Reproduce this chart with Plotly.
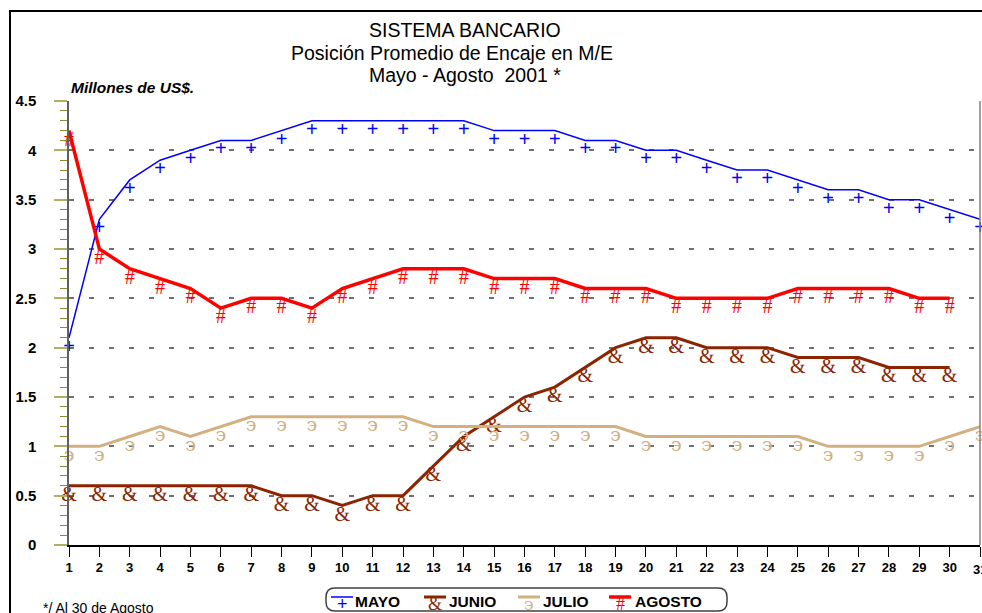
import plotly.graph_objects as go

# ---------------- data ----------------
dias = list(range(1, 32))
dia_labels = [str(d) for d in dias]
mayo = [2.1, 3.3, 3.7, 3.9, 4.0, 4.1, 4.1, 4.2, 4.3, 4.3, 4.3, 4.3, 4.3, 4.3, 4.2, 4.2,
        4.2, 4.1, 4.1, 4.0, 4.0, 3.9, 3.8, 3.8, 3.7, 3.6, 3.6, 3.5, 3.5, 3.4, 3.3]
junio = [0.6, 0.6, 0.6, 0.6, 0.6, 0.6, 0.6, 0.5, 0.5, 0.4, 0.5, 0.5, 0.8, 1.1, 1.3,
         1.5, 1.6, 1.8, 2.0, 2.1, 2.1, 2.0, 2.0, 2.0, 1.9, 1.9, 1.9, 1.8, 1.8, 1.8]
julio = [1.0, 1.0, 1.1, 1.2, 1.1, 1.2, 1.3, 1.3, 1.3, 1.3, 1.3, 1.3, 1.2, 1.2, 1.2, 1.2,
         1.2, 1.2, 1.2, 1.1, 1.1, 1.1, 1.1, 1.1, 1.1, 1.0, 1.0, 1.0, 1.0, 1.1, 1.2]
agosto = [4.2, 3.0, 2.8, 2.7, 2.6, 2.4, 2.5, 2.5, 2.4, 2.6, 2.7, 2.8, 2.8, 2.8, 2.7,
          2.7, 2.7, 2.6, 2.6, 2.6, 2.5, 2.5, 2.5, 2.5, 2.6, 2.6, 2.6, 2.6, 2.5, 2.5]
y_ticks = [0, 0.5, 1, 1.5, 2, 2.5, 3, 3.5, 4, 4.5]
y_tick_labels = ["0", "0.5", "1", "1.5", "2", "2.5", "3", "3.5", "4", "4.5"]

series = [
    ("MAYO", mayo, "#0000ff", 1.5, "+", "Liberation Sans", 20),
    ("JUNIO", junio, "#8b2500", 3, "&", "Liberation Serif", 20),
    ("JULIO", julio, "#d2b080", 3, "϶", "DejaVu Serif", 19),
    ("AGOSTO", agosto, "#ff0000", 3.5, "#", "Liberation Serif", 20),
]

# ---------------- geometry ----------------
W, H = 982, 613
L, R, T, B = 69, 2, 101, 68
PW, PH = W - L - R, H - T - B


def px(x):
    return (x - L) / PW


def py(y):
    return (H - B - y) / PH


fig = go.Figure()
for name, vals, color, width, glyph, gfont, gsize in series:
    fig.add_trace(go.Scatter(
        x=dias[:len(vals)], y=vals, name=name, mode="lines+text",
        line=dict(color=color, width=width),
        text=[glyph] * len(vals), textposition="bottom center",
        textfont=dict(family=gfont, size=gsize, color=color),
        cliponaxis=False, showlegend=False, hoverinfo="x+y+name",
    ))

shapes = []
# outer frame
shapes.append(dict(type="rect", xref="paper", yref="paper",
                   x0=px(10), x1=px(1000), y0=py(640), y1=py(11),
                   line=dict(color="black", width=2)))
# right gray border of plot
shapes.append(dict(type="line", xref="paper", yref="paper", x0=1, x1=1, y0=0, y1=1,
                   line=dict(color="#808080", width=1.5)))

annotations = []
titles = [("SISTEMA BANCARIO", 30, 465), ("Posición Promedio de Encaje en M/E", 53, 452),
          ("Mayo - Agosto  2001 *", 75, 465)]
for txt, yy, xx in titles:
    annotations.append(dict(text=txt, xref="paper", yref="paper", x=px(xx), y=py(yy),
                            xanchor="center", yanchor="middle", showarrow=False,
                            font=dict(family="Liberation Sans", size=19.5, color="black")))
annotations.append(dict(text="<b><i>Millones de US$.</i></b>", xref="paper", yref="paper",
                        x=px(69), y=py(88), xanchor="left", yanchor="middle", showarrow=False,
                        font=dict(family="Liberation Sans", size=15.5, color="black")))
annotations.append(dict(text="*/ Al 30 de Agosto", xref="paper", yref="paper",
                        x=px(41), y=py(608), xanchor="left", yanchor="middle", showarrow=False,
                        font=dict(family="Liberation Sans", size=14, color="black")))
# last day label at the right edge (plotly drops it because it overflows)
annotations.append(dict(text="<b>" + dia_labels[-1] + "</b>", xref="x", yref="paper",
                        x=dias[-1], y=py(569), xanchor="center", yanchor="middle",
                        showarrow=False,
                        font=dict(family="Liberation Sans", size=13, color="black")))

# custom legend
lx0, lx1, ly0, ly1, rr = 326, 727, 588, 611, 9
path = (f"M {px(lx0+rr)} {py(ly0)} L {px(lx1-rr)} {py(ly0)} "
        f"Q {px(lx1)} {py(ly0)} {px(lx1)} {py(ly0+rr)} L {px(lx1)} {py(ly1-rr)} "
        f"Q {px(lx1)} {py(ly1)} {px(lx1-rr)} {py(ly1)} L {px(lx0+rr)} {py(ly1)} "
        f"Q {px(lx0)} {py(ly1)} {px(lx0)} {py(ly1-rr)} L {px(lx0)} {py(ly0+rr)} "
        f"Q {px(lx0)} {py(ly0)} {px(lx0+rr)} {py(ly0)} Z")
shapes.append(dict(type="path", xref="paper", yref="paper", path=path,
                   line=dict(color="#404040", width=1.5), fillcolor="white"))
leg_pos = [(331, 353), (424, 447), (518, 541), (609, 633)]
for (name, vals, color, width, glyph, gfont, gsize), (sx, tx) in zip(series, leg_pos):
    shapes.append(dict(type="line", xref="paper", yref="paper", x0=px(sx), x1=px(sx + 22),
                       y0=py(597), y1=py(597), line=dict(color=color, width=width)))
    annotations.append(dict(text=glyph, xref="paper", yref="paper", x=px(sx + 11), y=py(604),
                            xanchor="center", yanchor="middle", showarrow=False,
                            font=dict(family=gfont, size=gsize - 2, color=color)))
    annotations.append(dict(text=f"<b>{name}</b>", xref="paper", yref="paper", x=px(tx), y=py(601),
                            xanchor="left", yanchor="middle", showarrow=False,
                            font=dict(family="Liberation Sans", size=15.5, color="black")))

fig.update_layout(
    width=W, height=H,
    margin=dict(l=L, r=R, t=T, b=B, pad=0),
    paper_bgcolor="white", plot_bgcolor="white",
    showlegend=False,
    shapes=shapes, annotations=annotations,
    xaxis=dict(range=[1, 31], tickmode="array", tickvals=dias, ticktext=dia_labels,
               ticks="outside", ticklen=10, tickcolor="black", tickwidth=1,
               showline=True, linecolor="black", linewidth=1.5, showgrid=False, zeroline=False,
               tickfont=dict(family="Liberation Sans", size=13, color="black", weight="bold"),
               fixedrange=True),
    yaxis=dict(range=[0, 4.5], tickmode="array", tickvals=y_ticks, ticktext=y_tick_labels,
               ticks="outside", ticklen=13, tickcolor="#b0b060", tickwidth=2,
               minor=dict(dtick=0.1, ticks="outside", ticklen=7, tickcolor="#8a8a30",
                          tickwidth=1, showgrid=False),
               showline=True, linecolor="#606060", linewidth=1.5,
               showgrid=True, gridcolor="#707070", gridwidth=1.5, griddash="5px,15px",
               zeroline=False, ticklabelstandoff=15,
               tickfont=dict(family="Liberation Sans", size=15, color="black", weight="bold"),
               fixedrange=True),
)

fig.write_html("out.html", config={"displayModeBar": False},
               post_script="document.body.style.margin='0';document.body.style.overflow='hidden';")
